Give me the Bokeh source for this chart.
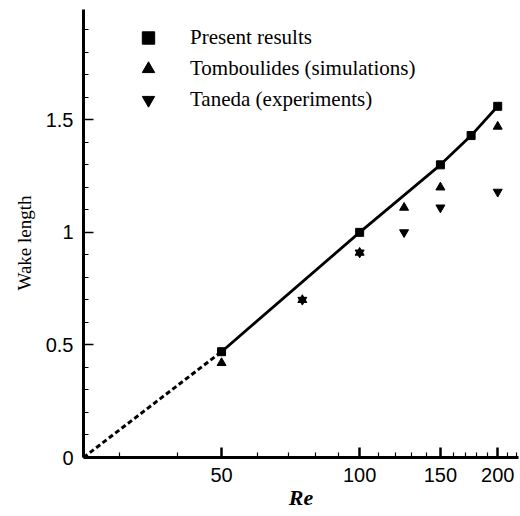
from bokeh.plotting import figure
from bokeh.models import (Range1d, FixedTicker, CustomJSTickFormatter, Legend,
                          LegendItem, ColumnDataSource, Title)
from bokeh.embed import file_html
from bokeh.resources import INLINE

# Recirculation (wake) length behind the body versus Reynolds number
re_present = [50, 100, 150, 175, 200]
wake_present = [0.47, 1.00, 1.30, 1.43, 1.56]

# Extrapolation of the present results down to the onset of separation
re_onset = [25, 50]
wake_onset = [0.0, 0.47]

re_tomboulides = [50, 75, 100, 125, 150, 200]
wake_tomboulides = [0.42, 0.70, 0.91, 1.11, 1.20, 1.47]

re_taneda = [75, 100, 125, 150, 200]
wake_taneda = [0.70, 0.91, 1.00, 1.11, 1.18]

x_major = [50, 100, 150, 200]
x_minor = [30, 40, 60, 70, 80, 90, 110, 120, 130, 140, 160, 170, 180, 190, 210, 220]
y_major = [0, 0.5, 1, 1.5]
y_minor = [0.1, 0.2, 0.3, 0.4, 0.6, 0.7, 0.8, 0.9, 1.1, 1.2, 1.3, 1.4, 1.6, 1.7, 1.8, 1.9]

SERIF = "Liberation Serif"
SANS = "Liberation Sans"

p = figure(width=520, height=516, x_axis_type="log",
           x_range=Range1d(25, 222), y_range=Range1d(0, 1.99),
           output_backend="svg", toolbar_location=None,
           min_border_left=83, min_border_right=2,
           min_border_top=9, min_border_bottom=59)
p.outline_line_color = None
p.xgrid.visible = False
p.ygrid.visible = False
p.background_fill_color = "white"
p.border_fill_color = "white"

p.xaxis.ticker = FixedTicker(ticks=x_major, minor_ticks=x_minor)
p.yaxis.ticker = FixedTicker(ticks=y_major, minor_ticks=y_minor)
p.xaxis.formatter = CustomJSTickFormatter(code="return tick.toString();")
p.yaxis.formatter = CustomJSTickFormatter(code="return tick.toString();")

for ax in (p.xaxis[0], p.yaxis[0]):
    ax.axis_line_width = 3
    ax.axis_line_color = "black"
    ax.major_tick_in = 10
    ax.major_tick_out = 0
    ax.minor_tick_in = 5
    ax.minor_tick_out = 0
    ax.major_tick_line_color = "black"
    ax.minor_tick_line_color = "black"
    ax.minor_tick_line_width = 1.2
    ax.major_label_text_font = SANS
    ax.major_label_text_font_size = "20px"
    ax.major_label_text_color = "black"
    ax.axis_label_text_color = "black"
    ax.major_label_standoff = 10

p.xaxis.major_tick_line_width = 2.5
p.yaxis.major_tick_line_width = 1.5

p.xaxis.axis_label = "Re"
p.xaxis.axis_label_text_font = SERIF
p.xaxis.axis_label_text_font_style = "bold italic"
p.xaxis.axis_label_text_font_size = "22px"
p.xaxis.axis_label_standoff = 0

# y-axis title as a side title, measured up from the bottom of the frame
p.add_layout(Title(text="Wake length", align="left", offset=167,
                   text_font=SERIF, text_font_size="19px",
                   text_font_style="normal", text_color="black",
                   standoff=16), "left")

# lines
p.line(re_onset, wake_onset, line_color="black", line_width=3, line_dash="5 3")
p.line(re_present, wake_present, line_color="black", line_width=2.8)

src_present = ColumnDataSource(dict(x=re_present, y=wake_present))
src_tomb = ColumnDataSource(dict(x=re_tomboulides, y=wake_tomboulides))
src_taneda = ColumnDataSource(dict(x=re_taneda, y=wake_taneda))

r_tomb = p.scatter("x", "y", source=src_tomb, marker="triangle", size=9,
                   fill_color="black", line_color="black")
r_taneda = p.scatter("x", "y", source=src_taneda, marker="inverted_triangle", size=9,
                     fill_color="black", line_color="black")
r_present = p.scatter("x", "y", source=src_present, marker="square", size=8,
                      fill_color="black", line_color="black")

legend = Legend(items=[
    LegendItem(label="Present results", renderers=[r_present]),
    LegendItem(label="Tomboulides (simulations)", renderers=[r_tomb]),
    LegendItem(label="Taneda (experiments)", renderers=[r_taneda]),
], location=(45, 342))
legend.glyph_width = 40
legend.glyph_height = 31
legend.label_height = 31
legend.spacing = 0
legend.padding = 0
legend.margin = 0
legend.label_standoff = 22
legend.label_text_font = SERIF
legend.label_text_font_size = "21px"
legend.label_text_color = "black"
legend.border_line_color = None
legend.background_fill_alpha = 0
p.add_layout(legend, "center")

open("out.html", "w").write(file_html(p, INLINE))
